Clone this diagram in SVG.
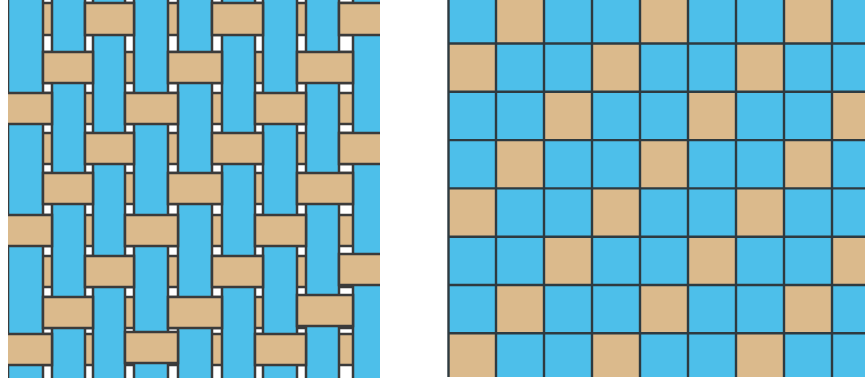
<svg xmlns="http://www.w3.org/2000/svg" width="865" height="385" viewBox="0 0 865 385">
<style>
.bg{fill:#ffffff}
.weft{fill:#dbba8c;stroke:#3b3b3b;stroke-width:2.5}
.warp{fill:#4dbfea;stroke:#3b3b3b;stroke-width:2.5}
.float{fill:#dbba8c;stroke:#3b3b3b;stroke-width:2.5}
.cellb{fill:#4dbfea}
.cellt{fill:#dbba8c}
.grid{stroke:#2e3a40;stroke-width:2.4;fill:none}
</style>
<defs>
<clipPath id="clipL"><rect x="8" y="0" width="372" height="378"/></clipPath>
<clipPath id="clipR"><rect x="447" y="0" width="418" height="377"/></clipPath>
</defs>
<rect class="bg" x="0" y="0" width="865" height="385"/>

<g id="weave" clip-path="url(#clipL)">
  <g id="wefts">
    <rect class="weft" x="4" y="3" width="390" height="32"/>
    <rect class="weft" x="4" y="52" width="390" height="31"/>
    <rect class="weft" x="4" y="93" width="390" height="31"/>
    <rect class="weft" x="4" y="133" width="390" height="31"/>
    <rect class="weft" x="4" y="173" width="390" height="31"/>
    <rect class="weft" x="4" y="215" width="390" height="31"/>
    <rect class="weft" x="4" y="256" width="390" height="31"/>
    <rect class="weft" x="4" y="297" width="390" height="31"/>
    <rect class="weft" x="4" y="334" width="390" height="31"/>
  </g>
  <g id="warps">
    <rect class="warp" x="8" y="-5" width="35" height="395"/>
    <rect class="warp" x="52" y="-5" width="33" height="395"/>
    <rect class="warp" x="93" y="-5" width="32" height="395"/>
    <rect class="warp" x="134" y="-5" width="34" height="395"/>
    <rect class="warp" x="178" y="-5" width="34" height="395"/>
    <rect class="warp" x="222" y="-5" width="33" height="395"/>
    <rect class="warp" x="263" y="-5" width="34" height="395"/>
    <rect class="warp" x="306" y="-5" width="33" height="395"/>
    <rect class="warp" x="353" y="-5" width="34" height="395"/>
  </g>
  <g id="floats">
    <!-- row 0: cols 2,5,8 -->
    <rect class="float" x="85" y="3" width="49" height="32"/>
    <rect class="float" x="212" y="3" width="51" height="32"/>
    <rect class="float" x="339" y="3" width="50" height="32"/>
    <!-- row 1: cols 1,4,7 -->
    <rect class="float" x="43" y="52" width="50" height="31"/>
    <rect class="float" x="168" y="52" width="54" height="31"/>
    <rect class="float" x="297" y="52" width="56" height="31"/>
    <!-- row 2: cols 0,3,6 -->
    <rect class="float" x="4" y="93" width="48" height="31"/>
    <rect class="float" x="125" y="93" width="53" height="31"/>
    <rect class="float" x="255" y="93" width="51" height="31"/>
    <!-- row 3: cols 2,5,8 -->
    <rect class="float" x="85" y="133" width="49" height="31"/>
    <rect class="float" x="212" y="133" width="51" height="31"/>
    <rect class="float" x="339" y="133" width="50" height="31"/>
    <!-- row 4: cols 1,4,7 -->
    <rect class="float" x="43" y="173" width="50" height="31"/>
    <rect class="float" x="168" y="173" width="54" height="31"/>
    <rect class="float" x="297" y="173" width="56" height="31"/>
    <!-- row 5: cols 0,3,6 -->
    <rect class="float" x="4" y="215" width="48" height="31"/>
    <rect class="float" x="125" y="215" width="53" height="31"/>
    <rect class="float" x="255" y="215" width="51" height="31"/>
    <!-- row 6: cols 2,5,8 -->
    <rect class="float" x="85" y="256" width="49" height="31"/>
    <rect class="float" x="212" y="256" width="51" height="31"/>
    <rect class="float" x="339" y="254" width="50" height="31"/>
    <!-- row 7: cols 1,4,7 -->
    <rect class="float" x="43" y="297" width="50" height="31"/>
    <rect class="float" x="168" y="297" width="54" height="31"/>
    <rect class="float" x="297" y="295" width="56" height="31"/>
    <!-- row 8: cols 0,3,6 -->
    <rect class="float" x="4" y="334" width="48" height="31"/>
    <rect class="float" x="125" y="332" width="53" height="31"/>
    <rect class="float" x="255" y="334" width="51" height="31"/>
  </g>
</g>

<g id="draft" clip-path="url(#clipR)">
  <rect class="cellb" x="448" y="0" width="420" height="380"/>
  <g id="tan-cells">
    <rect class="cellt" x="496" y="-5" width="48" height="48.5"/>
    <rect class="cellt" x="640" y="-5" width="48" height="48.5"/>
    <rect class="cellt" x="784" y="-5" width="48" height="48.5"/>

    <rect class="cellt" x="448" y="43.5" width="48" height="48.3"/>
    <rect class="cellt" x="592" y="43.5" width="48" height="48.3"/>
    <rect class="cellt" x="736" y="43.5" width="48" height="48.3"/>

    <rect class="cellt" x="544" y="91.8" width="48" height="48.3"/>
    <rect class="cellt" x="688" y="91.8" width="48" height="48.3"/>
    <rect class="cellt" x="832" y="91.8" width="40" height="48.3"/>

    <rect class="cellt" x="496" y="140.1" width="48" height="48.3"/>
    <rect class="cellt" x="640" y="140.1" width="48" height="48.3"/>
    <rect class="cellt" x="784" y="140.1" width="48" height="48.3"/>

    <rect class="cellt" x="448" y="188.4" width="48" height="48.3"/>
    <rect class="cellt" x="592" y="188.4" width="48" height="48.3"/>
    <rect class="cellt" x="736" y="188.4" width="48" height="48.3"/>

    <rect class="cellt" x="544" y="236.7" width="48" height="48.3"/>
    <rect class="cellt" x="688" y="236.7" width="48" height="48.3"/>
    <rect class="cellt" x="832" y="236.7" width="40" height="48.3"/>

    <rect class="cellt" x="496" y="285" width="48" height="48.3"/>
    <rect class="cellt" x="640" y="285" width="48" height="48.3"/>
    <rect class="cellt" x="784" y="285" width="48" height="48.3"/>

    <rect class="cellt" x="448" y="333.3" width="48" height="48.3"/>
    <rect class="cellt" x="592" y="333.3" width="48" height="48.3"/>
    <rect class="cellt" x="736" y="333.3" width="48" height="48.3"/>
  </g>
  <g id="grid-lines" class="grid">
    <path d="M448.5,0V377M496,0V377M544,0V377M592,0V377M640,0V377M688,0V377M736,0V377M784,0V377M832,0V377"/>
    <path d="M448,43.5H865M448,91.8H865M448,140.1H865M448,188.4H865M448,236.7H865M448,285H865M448,333.3H865"/>
  </g>
</g>
</svg>
